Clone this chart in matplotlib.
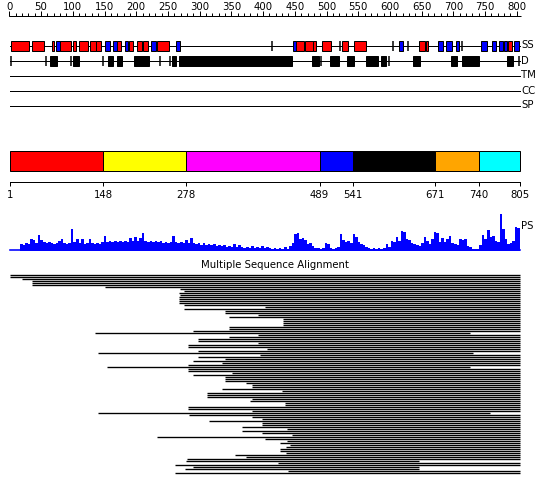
import matplotlib
matplotlib.use("Agg")
import matplotlib.pyplot as plt
from matplotlib.patches import Rectangle

# ---------------- data ----------------
SEQ_LEN = 805
ruler_ticks = list(range(0, 801, 50))
ruler_minor = list(range(0, 801, 10))

# secondary structure (residue ranges)
ss_helix = [(3, 31), (36, 55), (67, 70), (80, 97), (100, 105), (110, 124),
            (127, 137), (137, 145), (170, 176), (189, 195), (201, 209),
            (211, 219), (233, 252), (452, 465), (466, 479), (479, 484),
            (493, 507), (524, 534), (543, 562), (646, 655), (657, 660),
            (786, 792)]
ss_strand = [(73, 80), (151, 159), (163, 170), (182, 187), (223, 231),
             (263, 269), (447, 452), (614, 621), (676, 684), (688, 698),
             (704, 709), (744, 753), (761, 767), (772, 778), (780, 785),
             (796, 803)]
ss_marks = [414, 521, 605, 628, 714]

# disorder
dis_boxes = [(64, 75), (100, 110), (155, 163), (170, 178), (196, 220),
             (256, 263), (267, 446), (477, 488), (505, 520), (532, 543),
             (562, 581), (586, 594), (636, 647), (696, 706), (714, 740),
             (784, 794)]
dis_marks = [3, 58, 97, 148, 237, 253, 491, 598, 803]

empty_tracks = ["TM", "CC", "SP"]

# domains
domain_bounds = [1, 148, 278, 489, 541, 671, 740, 805]
domain_colors = ["#ff0000", "#ffff00", "#ff00ff", "#0000ff", "#000000",
                 "#ffa500", "#00ffff"]

# PS profile, one value per 4 residues (height units)
ps_bin = 4
ps_values = [0, 0, 0, 0, 7, 6, 8, 7, 12, 11, 8, 16, 11, 9, 8, 9, 8, 7, 8, 10,
             12, 8, 7, 8, 22, 9, 12, 8, 12, 7, 8, 12, 8, 7, 8, 7, 9, 15, 9, 10,
             9, 10, 9, 10, 9, 10, 9, 13, 10, 14, 10, 13, 18, 10, 9, 10, 9, 10, 9, 10,
             8, 9, 8, 9, 15, 9, 8, 9, 8, 11, 8, 13, 8, 7, 8, 6, 8, 6, 7, 6,
             7, 5, 6, 5, 6, 4, 5, 4, 7, 4, 6, 4, 3, 4, 3, 5, 3, 4, 3, 5,
             3, 4, 3, 2, 3, 2, 3, 2, 4, 2, 5, 8, 17, 18, 12, 13, 11, 7, 8, 5,
             3, 3, 2, 3, 8, 7, 3, 2, 3, 4, 17, 11, 9, 10, 8, 17, 14, 9, 7, 6,
             4, 3, 2, 3, 2, 3, 2, 3, 7, 4, 10, 9, 14, 10, 20, 19, 12, 11, 8, 7,
             6, 5, 8, 14, 10, 7, 12, 19, 18, 9, 13, 9, 12, 15, 8, 7, 6, 12, 11, 12,
             5, 4, 2, 2, 2, 6, 16, 12, 21, 14, 15, 10, 9, 37, 22, 12, 7, 8, 10, 24,
             23, 15]

# multiple sequence alignment rows (residue start / end)
msa_starts = [1, 1, 20, 36, 36, 36, 151, 269, 275, 267,
              269, 267, 267, 267, 267, 275, 403, 275, 340, 340,
              392, 346, 431, 431, 431, 431, 346, 346, 289, 135,
              392, 346, 297, 297, 392, 282, 282, 406, 297, 140,
              395, 297, 340, 289, 335, 282, 154, 282, 282, 351,
              289, 340, 340, 340, 373, 382, 382, 335, 430, 312,
              312, 312, 382, 379, 434, 434, 282, 282, 382, 140,
              283, 382, 398, 315, 398, 398, 367, 437, 367, 398,
              445, 233, 403, 437, 427, 442, 436, 427, 427, 436,
              356, 373, 280, 278, 423, 261, 289, 277, 439, 261]
msa_ends = [805, 805, 805, 805, 805, 805, 805, 805, 805, 805,
            805, 805, 805, 805, 805, 805, 805, 805, 805, 805,
            805, 805, 805, 805, 805, 805, 805, 805, 805, 726,
            805, 805, 805, 805, 805, 805, 805, 805, 805, 731,
            805, 805, 805, 805, 805, 805, 726, 805, 805, 805,
            805, 805, 805, 805, 805, 805, 805, 805, 805, 805,
            805, 805, 805, 805, 805, 805, 805, 805, 805, 757,
            805, 805, 805, 805, 805, 805, 805, 805, 805, 805,
            805, 805, 805, 805, 805, 805, 805, 805, 805, 805,
            805, 805, 805, 646, 805, 805, 646, 646, 805, 805]

# ---------------- layout ----------------
W, H = 550, 495
PX = 72.0 / 100.0  # one pixel in points
scale = 510.0 / (SEQ_LEN - 1)          # pixels per residue
FONT = dict(family="DejaVu Sans", fontsize=7.3)

fig = plt.figure(figsize=(W / 100, H / 100), dpi=100)
ax = fig.add_axes([0, 0, 1, 1])
ax.set_xlim(1 - 10 / scale, 1 + (W - 10) / scale)
ax.set_ylim(H, 0)
ax.axis("off")

lab_x = SEQ_LEN + 1.5

# ruler
ax.plot([0, 807], [15.5, 15.5], color="k", lw=PX, solid_capstyle="butt")
ax.vlines(ruler_minor, 12.5, 15.5, color="k", lw=PX)
ax.vlines(ruler_ticks, 11.0, 15.5, color="k", lw=PX)
for t in ruler_ticks:
    ax.text(t, 10, str(t), ha="center", va="baseline", **FONT)

# SS track
y_ss = 45.5
ax.plot([1, SEQ_LEN], [y_ss, y_ss], color="k", lw=PX, zorder=1)
for s, e in ss_helix:
    ax.add_patch(Rectangle((s, y_ss - 5), e - s, 10, fc="#ff0000", ec="k", lw=PX, zorder=2))
for s, e in ss_strand:
    ax.add_patch(Rectangle((s, y_ss - 5), e - s, 10, fc="#0000ff", ec="k", lw=PX, zorder=2))
ax.vlines(ss_marks, y_ss - 5, y_ss + 5, color="k", lw=1.5 * PX, zorder=2)
ax.text(lab_x, y_ss, "SS", ha="left", va="center", **FONT)

# disorder track
y_d = 60.5
ax.plot([1, SEQ_LEN], [y_d, y_d], color="k", lw=PX, zorder=1)
for s, e in dis_boxes:
    ax.add_patch(Rectangle((s, y_d - 5), e - s, 10, fc="k", ec="k", lw=PX, zorder=2))
ax.vlines(dis_marks, y_d - 5, y_d + 5, color="k", lw=1.5 * PX, zorder=2)
ax.text(lab_x, y_d, "D", ha="left", va="center", **FONT)

# empty tracks
for i, name in enumerate(empty_tracks):
    y = 75.5 + 15 * i
    ax.plot([1, SEQ_LEN], [y, y], color="k", lw=PX)
    ax.text(lab_x, y, name, ha="left", va="center", **FONT)

# domains
for i, c in enumerate(domain_colors):
    s, e = domain_bounds[i], domain_bounds[i + 1]
    ax.add_patch(Rectangle((s, 150.5), e - s, 20, fc=c, ec="k", lw=PX))
ax.plot([1, SEQ_LEN], [181.5, 181.5], color="k", lw=PX)
ax.vlines(domain_bounds, 181.5, 185.5, color="k", lw=PX)
for b in domain_bounds:
    ax.text(b, 195, str(b), ha="center", va="center", **FONT)

# PS profile
ps_base = 250.5
edges = [min(1 + ps_bin * i, SEQ_LEN) for i in range(len(ps_values) + 1)]
tops = [ps_base - v for v in ps_values]
ax.stairs(tops, edges, baseline=ps_base, fill=True, color="#0000ff", lw=0)
ax.plot([1, SEQ_LEN], [ps_base - 0.5, ps_base - 0.5], color="#0000ff", lw=1.6 * PX)
ax.text(lab_x, 226, "PS", ha="left", va="center", **FONT)

# MSA
ax.text(1 + (275 - 10) / scale, 265, "Multiple Sequence Alignment",
        ha="center", va="center", **FONT)
ys = [274.5 + 2 * i for i in range(len(msa_starts))]
ax.hlines(ys, msa_starts, msa_ends, color="k", lw=1.35 * PX)

fig.savefig("out.png", dpi=100)
